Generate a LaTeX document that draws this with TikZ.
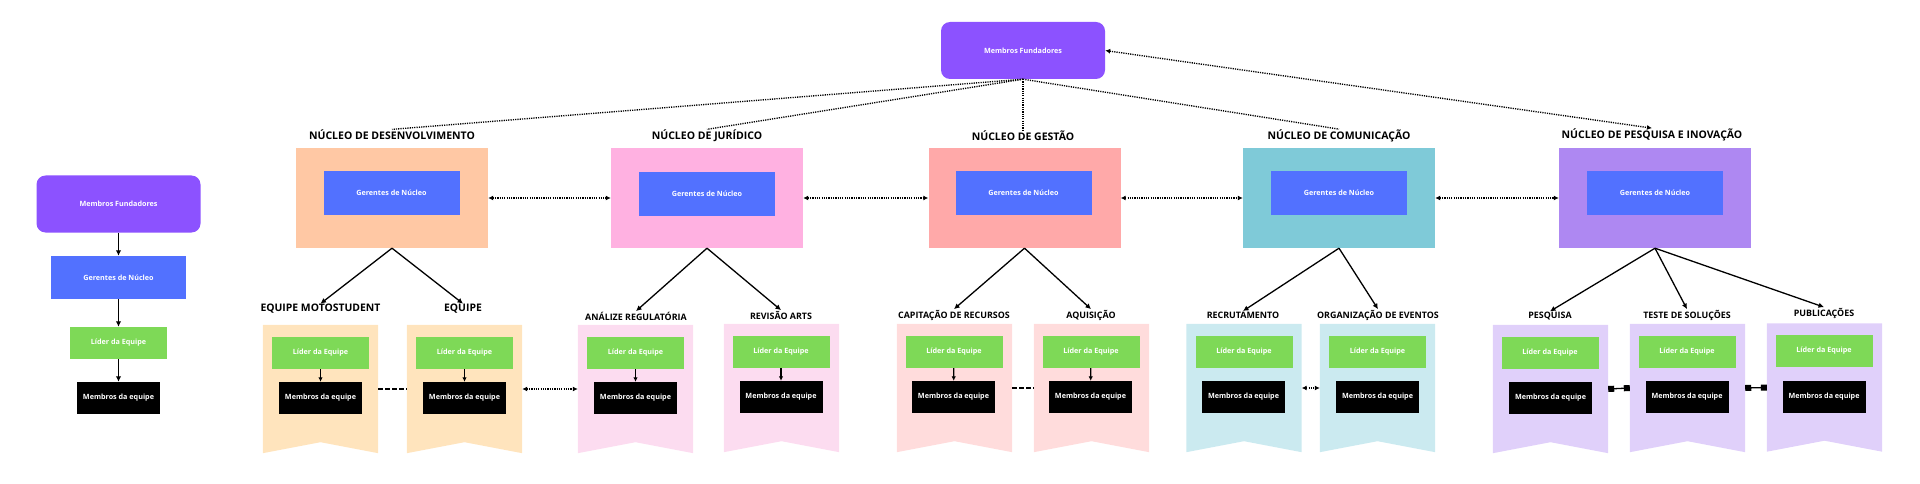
\documentclass[tikz,border=0pt]{standalone}
\usepackage{fontspec}
\setmainfont{Open Sans}
\usetikzlibrary{arrows.meta,calc}
\definecolor{fundc}{HTML}{8C52FF}
\definecolor{gerc}{HTML}{5271FF}
\definecolor{lidc}{HTML}{7ED957}
\definecolor{desc}{HTML}{FFC8A4}
\definecolor{desb}{HTML}{FFE4BD}
\definecolor{jurc}{HTML}{FFB1E1}
\definecolor{jurb}{HTML}{FCDCF0}
\definecolor{gesc}{HTML}{FFA9A9}
\definecolor{gesb}{HTML}{FFDCDC}
\definecolor{comc}{HTML}{7FCAD8}
\definecolor{comb}{HTML}{CBEAF0}
\definecolor{pesc}{HTML}{AE88F2}
\definecolor{pesb}{HTML}{E0D0FA}
\newcommand{\drawbanner}[2]{\fill[#2] (#1.north west) -- (#1.north east) -- (#1.south east) -- ($(#1.south)+(0,-11)$) -- (#1.south west) -- cycle;}
\tikzset{
  box/.style={inner sep=0pt, text=white, font=\bfseries\fontsize{7.2}{8.5}\selectfont, align=center},
  fundbox/.style={box, fill=fundc, rounded corners=9pt, minimum width=164pt, minimum height=57pt},
  gerbox/.style={box, fill=gerc, minimum width=136pt, minimum height=44pt},
  lgerbox/.style={box, fill=gerc, minimum width=135pt, minimum height=43pt},
  lidbox/.style={box, fill=lidc, minimum width=97pt, minimum height=32pt},
  membbox/.style={box, fill=black, minimum width=83pt, minimum height=32pt},
  nucleo/.style={inner sep=0pt, minimum width=192pt, minimum height=100pt},
  bannerbox/.style={inner sep=0pt, minimum width=115pt, minimum height=128pt},
  nhead/.style={font=\bfseries\fontsize{10.5}{12}\selectfont, inner sep=0.5pt},
  thead/.style={font=\bfseries\fontsize{8.9}{10}\selectfont, inner sep=0.5pt},
  theadbig/.style={font=\bfseries\fontsize{10.4}{12}\selectfont, inner sep=0.5pt},
  dotline/.style={line width=1.35pt, dash pattern=on 1.2pt off 1.1pt},
  dotarr/.style={dotline, {Latex[length=5pt,width=5pt]}-{Latex[length=5pt,width=5pt]}},
  solidarr/.style={line width=1.3pt, -{Latex[length=5.5pt,width=5.5pt]}},
  shortarr/.style={line width=1.3pt, -{Latex[length=4.5pt,width=4.5pt]}},
  dashline/.style={line width=1.3pt, dash pattern=on 4.5pt off 2.5pt},
  sqline/.style={line width=1.3pt, {Square[length=6pt,width=6pt]}-{Square[length=6pt,width=6pt]}},
}
\begin{document}
\begin{tikzpicture}[x=1pt,y=-1pt]
\useasboundingbox (0,0) rectangle (1920,484);
% ---------- left legend column ----------
\node[fundbox] (lf) at (118.5,204) {Membros Fundadores};
\node[lgerbox] (lg) at (118.5,277.5) {Gerentes de Núcleo};
\node[lidbox] (ll) at (118.5,343) {Líder da Equipe};
\node[membbox] (lm) at (118.5,398) {Membros da equipe};
\draw[solidarr] (lf) -- (lg);
\draw[solidarr] (lg) -- (ll);
\draw[solidarr] (ll) -- (lm);
% ---------- top ----------
\node[fundbox] (tf) at (1023,50.5) {Membros Fundadores};
% ---------- nucleos ----------
\node[nucleo, fill=desc] (nd) at (392,198) {};
\node[nucleo, fill=jurc] (nj) at (707,198) {};
\node[nucleo, fill=gesc] (ng) at (1024.5,198) {};
\node[nucleo, fill=comc] (nc) at (1339,198) {};
\node[nucleo, fill=pesc] (np) at (1655,198) {};
\node[gerbox] (gd) at (391.5,193) {Gerentes de Núcleo};
\node[gerbox] (gj) at (707,194) {Gerentes de Núcleo};
\node[gerbox] (gg) at (1023.5,193) {Gerentes de Núcleo};
\node[gerbox] (gc) at (1339,193) {Gerentes de Núcleo};
\node[gerbox] (gp) at (1655,193) {Gerentes de Núcleo};
\node[nhead] (hd) at (392,135) {NÚCLEO DE DESENVOLVIMENTO};
\node[nhead] (hj) at (707,136) {NÚCLEO DE JURÍDICO};
\node[nhead] (hg) at (1023,136) {NÚCLEO DE GESTÃO};
\node[nhead] (hc) at (1339,136) {NÚCLEO DE COMUNICAÇÃO};
\node[nhead] (hp) at (1652,135) {NÚCLEO DE PESQUISA E INOVAÇÃO};
% top dotted connectors
\draw[dotline] (tf.south) -- (hd.north);
\draw[dotline] (tf.south) -- (hj.north);
\draw[dotline] (tf.south) -- (hg.north);
\draw[dotline] (tf.south) -- (hc.north);
\draw[dotarr] (tf.east) -- (hp.north);
% nucleo connectors
\draw[dotarr] (nd.east) -- (nj.west);
\draw[dotarr] (nj.east) -- (ng.west);
\draw[dotarr] (ng.east) -- (nc.west);
\draw[dotarr] (nc.east) -- (np.west);
% ---------- banners ----------
\node[bannerbox] (b1) at (320.5,389) {};
\node[bannerbox] (b2) at (464.5,389) {};
\node[bannerbox] (b3) at (635.5,389) {};
\node[bannerbox] (b4) at (781.5,388) {};
\node[bannerbox] (b5) at (954.5,388) {};
\node[bannerbox] (b6) at (1091.5,388) {};
\node[bannerbox] (b7) at (1244,388) {};
\node[bannerbox] (b8) at (1377.5,388) {};
\node[bannerbox] (b9) at (1550.5,389) {};
\node[bannerbox] (b10) at (1687.5,388) {};
\node[bannerbox] (b11) at (1824.5,387.5) {};
\drawbanner{b1}{desb}
\drawbanner{b2}{desb}
\drawbanner{b3}{jurb}
\drawbanner{b4}{jurb}
\drawbanner{b5}{gesb}
\drawbanner{b6}{gesb}
\drawbanner{b7}{comb}
\drawbanner{b8}{comb}
\drawbanner{b9}{pesb}
\drawbanner{b10}{pesb}
\drawbanner{b11}{pesb}
% banner headings
\node[theadbig] (t1) at (320.5,309) {EQUIPE MOTOSTUDENT};
\node[theadbig] (t2) at (463,309) {EQUIPE};
\node[thead] (t3) at (636,316) {ANÁLIZE REGULATÓRIA};
\node[thead] (t4) at (781,315) {REVISÃO ARTS};
\node[thead] (t5) at (954,315) {CAPITAÇÃO DE RECURSOS};
\node[thead] (t6) at (1091,315) {AQUISIÇÃO};
\node[thead] (t7) at (1243,315) {RECRUTAMENTO};
\node[thead] (t8) at (1378,315) {ORGANIZAÇÃO DE EVENTOS};
\node[thead] (t9) at (1550,316) {PESQUISA};
\node[thead] (t10) at (1687,315) {TESTE DE SOLUÇÕES};
\node[thead] (t11) at (1824,313) {PUBLICAÇÕES};
% lider and membros
\node[lidbox] (l1) at (320.5,353) {Líder da Equipe};
\node[membbox] (m1) at (320.5,398) {Membros da equipe};
\node[lidbox] (l2) at (464.5,353) {Líder da Equipe};
\node[membbox] (m2) at (464.5,398) {Membros da equipe};
\node[lidbox] (l3) at (635.5,353) {Líder da Equipe};
\node[membbox] (m3) at (635.5,398) {Membros da equipe};
\node[lidbox] (l4) at (781,352) {Líder da Equipe};
\node[membbox] (m4) at (781,397) {Membros da equipe};
\node[lidbox] (l5) at (954,352) {Líder da Equipe};
\node[membbox] (m5) at (953.5,397) {Membros da equipe};
\node[lidbox] (l6) at (1091,352) {Líder da Equipe};
\node[membbox] (m6) at (1090.5,397) {Membros da equipe};
\node[lidbox] (l7) at (1244,352) {Líder da Equipe};
\node[membbox] (m7) at (1243.5,397) {Membros da equipe};
\node[lidbox] (l8) at (1377.5,352) {Líder da Equipe};
\node[membbox] (m8) at (1377.5,397) {Membros da equipe};
\node[lidbox] (l9) at (1550,353) {Líder da Equipe};
\node[membbox] (m9) at (1550.5,398) {Membros da equipe};
\node[lidbox] (l10) at (1687,352) {Líder da Equipe};
\node[membbox] (m10) at (1687,397) {Membros da equipe};
\node[lidbox] (l11) at (1824,351) {Líder da Equipe};
\node[membbox] (m11) at (1824,396.5) {Membros da equipe};
\draw[shortarr] (l1) -- (m1);
\draw[shortarr] (l2) -- (m2);
\draw[shortarr] (l3) -- (m3);
\draw[shortarr] (l4) -- (m4);
\draw[shortarr] (l5) -- (m5);
\draw[shortarr] (l6) -- (m6);
% nucleo -> team arrows
\draw[solidarr] (nd.south) -- (t1.north);
\draw[solidarr] (nd.south) -- (t2.north);
\draw[solidarr] (nj.south) -- (t3.north);
\draw[solidarr] (nj.south) -- (t4.north);
\draw[solidarr] (ng.south) -- (t5.north);
\draw[solidarr] (ng.south) -- (t6.north);
\draw[solidarr] (nc.south) -- (t7.north);
\draw[solidarr] (nc.south) -- (t8.north);
\draw[solidarr] (np.south) -- (t9.north);
\draw[solidarr] (np.south) -- (t10.north);
\draw[solidarr] (np.south) -- (t11.north);
% banner connectors
\draw[dashline] (b1.east) -- (b2.west);
\draw[dotarr] (b2.east) -- (b3.west);
\draw[dashline] (b5.east) -- (b6.west);
\draw[dotarr] (b7.east) -- (b8.west);
\draw[sqline] (b9.east) -- (b10.west);
\draw[sqline] (b10.east) -- (b11.west);
\end{tikzpicture}
\end{document}
